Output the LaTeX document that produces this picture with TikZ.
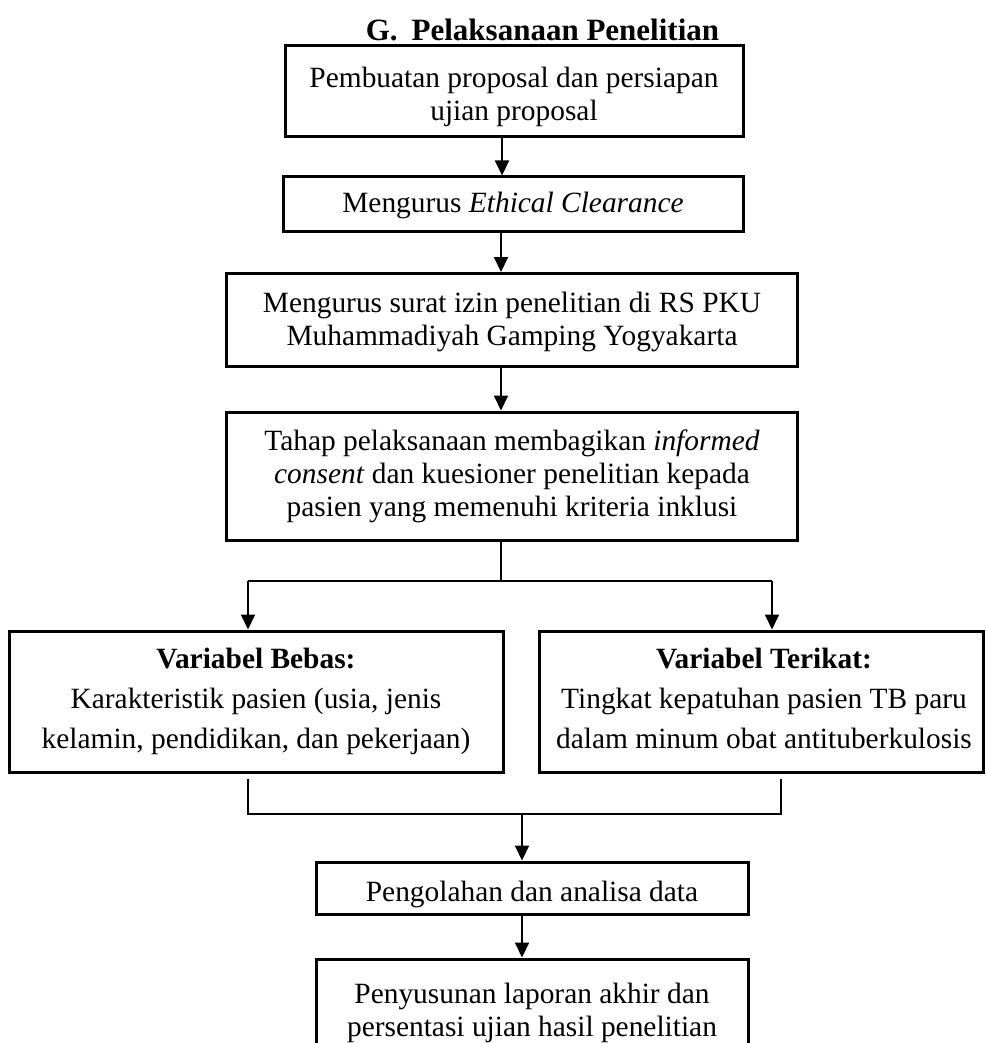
\documentclass[tikz,border=0pt]{standalone}
\usepackage{fontspec}
\setmainfont{Liberation Serif}
\usetikzlibrary{arrows.meta}
\begin{document}
\begin{tikzpicture}[x=0.5pt,y=-0.5pt,
  box/.style={draw=black,line width=1.5pt,rectangle,inner sep=0pt},
  txt/.style={inner sep=0pt,align=center,font=\fontsize{14.7pt}{16.6pt}\selectfont},
  txtw/.style={inner sep=0pt,align=center,font=\fontsize{14.7pt}{20pt}\selectfont},
  conn/.style={draw=black,line width=1pt},
  arr/.style={conn,-{Triangle[width=7pt,length=7.5pt]}}]
\useasboundingbox (0,0) rectangle (985,1043);
\clip (0,0) rectangle (985,1043);
% boxes
\node[box,minimum width=229pt,minimum height=45.5pt] (b1) at (514,91.5) {};
\node[box,minimum width=230pt,minimum height=27.5pt] (b2) at (513,204.5) {};
\node[box,minimum width=285.5pt,minimum height=46.5pt] (b3) at (511.5,320) {};
\node[box,minimum width=285.5pt,minimum height=64pt] (b4) at (511.5,476) {};
\node[box,minimum width=247pt,minimum height=70.5pt] (b5) at (256,701.5) {};
\node[box,minimum width=222pt,minimum height=70.5pt] (b6) at (761,701.5) {};
\node[box,minimum width=216pt,minimum height=26pt] (b7) at (532,888) {};
\node[box,minimum width=216pt,minimum height=60.5pt] (b8) at (532,1019.5) {};
% texts
\node[txt,anchor=base,font=\fontsize{15.5pt}{18pt}\selectfont\bfseries] (t0) at (542.5,41) {G.\hspace{0.45em}Pelaksanaan Penelitian};
\node[txt] (t1) at (514,96.6) {Pembuatan proposal dan persiapan\\ujian proposal};
\node[txt,anchor=base] (t2) at (513,213) {Mengurus \textit{Ethical Clearance}};
\node[txt] (t3) at (512,321.7) {Mengurus surat izin penelitian di RS PKU\\Muhammadiyah Gamping Yogyakarta};
\node[txt] (t4) at (512,476.5) {Tahap pelaksanaan membagikan \textit{informed}\\\textit{consent} dan kuesioner penelitian kepada\\pasien yang memenuhi kriteria inklusi};
\node[txtw] (t5) at (256,701) {\textbf{Variabel Bebas:}\\Karakteristik pasien (usia, jenis\\kelamin, pendidikan, dan pekerjaan)};
\node[txtw] (t6) at (764,698) {\textbf{Variabel Terikat:}\\Tingkat kepatuhan pasien TB paru\\dalam minum obat antituberkulosis};
\node[txt,anchor=base] (t7) at (532,901) {Pengolahan dan analisa data};
\node[txt] (t8) at (532,1013.2) {Penyusunan laporan akhir dan\\persentasi ujian hasil penelitian};
% connector coordinates
\coordinate (a1) at (502,0);
\coordinate (a2) at (501,0);
\coordinate (s0) at (501,581);
\coordinate (sL) at (248,581);
\coordinate (sR) at (772,581);
\coordinate (mL) at (248,814);
\coordinate (mR) at (781,814);
\coordinate (m0) at (522,814);
% connectors
\draw[arr] (b1.south -| a1) -- (b2.north -| a1);
\draw[arr] (b2.south -| a2) -- (b3.north -| a2);
\draw[arr] (b3.south -| a2) -- (b4.north -| a2);
\draw[conn] (b4.south -| s0) -- (s0);
\draw[conn] (sL) -- (sR);
\draw[arr] (sL) -- (b5.north -| sL);
\draw[arr] (sR) -- (b6.north -| sR);
\draw[conn] ([yshift=-2.5pt]b5.south -| mL) -- (mL) -- (mR) -- ([yshift=-2.5pt]b6.south -| mR);
\draw[arr] (m0) -- (b7.north -| m0);
\draw[arr] (b7.south -| m0) -- (b8.north -| m0);
\end{tikzpicture}
\end{document}
